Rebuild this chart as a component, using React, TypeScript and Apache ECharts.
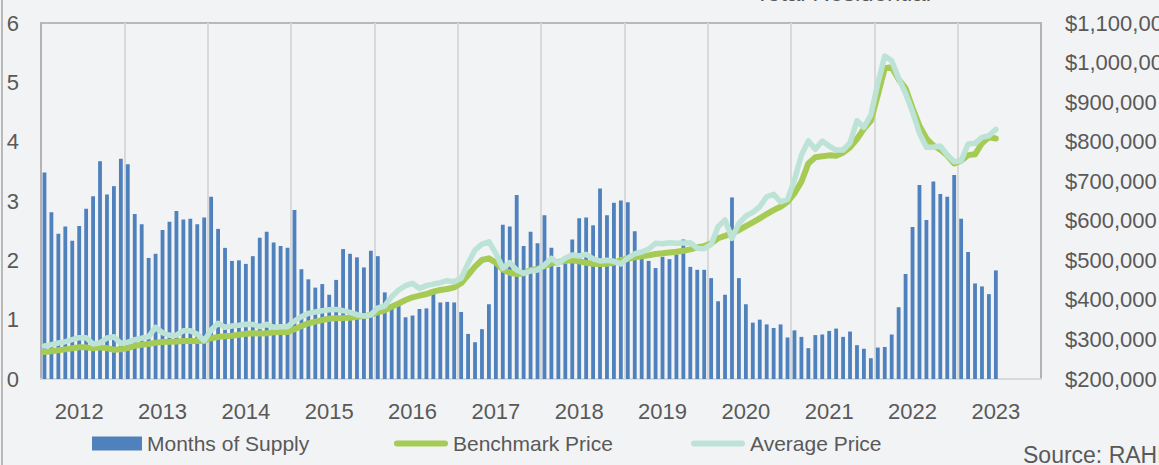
import React, { useEffect, useRef } from 'react';
import * as echarts from 'echarts';

const yearLabels = ['2012', '2013', '2014', '2015', '2016', '2017', '2018', '2019', '2020', '2021', '2022', '2023'];

const monthsOfSupply = [
  3.48, 2.81, 2.45, 2.57, 2.33, 2.58, 2.87, 3.08, 3.67, 3.11, 3.25, 3.71,
  3.62, 2.78, 2.61, 2.04, 2.11, 2.51, 2.65, 2.83, 2.69, 2.70, 2.61, 2.72,
  3.07, 2.53, 2.21, 1.99, 2.00, 1.94, 2.07, 2.38, 2.48, 2.30, 2.24, 2.21,
  2.85, 1.85, 1.68, 1.54, 1.60, 1.42, 1.67, 2.19, 2.11, 2.05, 1.88, 2.16,
  2.07, 1.46, 1.26, 1.24, 1.04, 1.07, 1.18, 1.19, 1.45, 1.29, 1.30, 1.29,
  1.13, 0.76, 0.62, 0.84, 1.26, 1.93, 2.60, 2.57, 3.10, 2.24, 2.48, 2.29,
  2.76, 2.21, 1.89, 1.95, 2.35, 2.71, 2.72, 2.59, 3.21, 2.76, 2.97, 3.01,
  2.98, 2.49, 2.03, 1.99, 1.87, 2.06, 2.02, 2.10, 2.35, 1.89, 1.84, 1.84,
  1.70, 1.31, 1.42, 3.06, 1.70, 1.26, 0.95, 1.00, 0.92, 0.86, 0.92, 0.70,
  0.82, 0.71, 0.52, 0.74, 0.75, 0.81, 0.85, 0.71, 0.80, 0.57, 0.51, 0.35,
  0.53, 0.54, 0.75, 1.21, 1.77, 2.56, 3.27, 2.68, 3.33, 3.12, 3.07, 3.44,
  2.70, 2.14, 1.61, 1.56, 1.43, 1.83,
];

// thousands of dollars
const benchmarkPrice = [
  268, 270, 272.5, 275, 278, 280, 280, 277.5, 280, 278, 274, 275,
  278, 284, 286.7, 288.5, 291.8, 293.5, 294.3, 295, 296, 296, 296, 297,
  303, 306, 308, 309.5, 312, 314.5, 315.5, 315, 315.5, 318, 319, 319,
  326, 334, 340.8, 345, 349, 352.4, 353.4, 354, 355, 357.5, 359, 362.5,
  368.6, 373.6, 382.8, 391, 399.7, 406.5, 410.6, 414.8, 420.7, 425, 427.5, 431.8,
  442, 463, 484, 500.8, 505, 494, 477, 468.7, 465.4, 467, 475.5, 478,
  485.6, 492.4, 495.7, 499, 500, 497.5, 494, 491.5, 490.7, 491.5, 494, 500.8,
  504, 507.6, 510, 512.6, 516, 517.7, 520, 521.8, 524.3, 527.8, 533, 536,
  543, 555.7, 562, 568, 576.6, 586.7, 596, 606, 617, 627, 635.5, 648,
  669.4, 698.7, 745, 760.4, 763, 765.4, 764.5, 772, 785.7, 806.7, 832.7, 853,
  918, 985.5, 988, 957.6, 934.8, 885, 840, 808, 790, 780, 765, 745,
  752, 766, 768, 796, 811, 808,
];

const averagePrice = [
  283.4, 286.7, 291, 294.3, 299.4, 304.4, 304.4, 288.5, 291.8, 303.6, 307, 290,
  292.8, 299.4, 302.9, 307, 330.7, 317, 310.5, 310.9, 322, 322, 313, 297,
  323.9, 340.8, 330.7, 334, 335.7, 338.3, 338, 332.3, 338.3, 330.7, 332.3, 332.3,
  346.6, 357.5, 366, 369.4, 372.7, 375, 376, 372.7, 368.6, 362.5, 359, 362.5,
  379.5, 384.5, 408, 425, 436, 442, 429, 436, 440, 443.4, 448.5, 446,
  454.5, 492.5, 526, 541, 547, 517.7, 480, 494, 475.5, 467, 473, 475.5,
  488, 505, 492.4, 505.9, 513.4, 511, 515, 504, 498.3, 500, 497.5, 490.7,
  505.9, 516.7, 521, 528.6, 543, 542, 544.5, 543, 543.8, 544.5, 530.3, 529.5,
  540.5, 585, 602, 555.7, 593.6, 612, 621.4, 635.5, 660.8, 667, 648, 654.2,
  703, 766, 802, 780.6, 801.6, 789, 778.9, 778.9, 797.3, 853, 836, 867.4,
  947.5, 1016.5, 1004.6, 960, 922, 875.7, 821, 785.7, 785.7, 789, 766.2, 749.3,
  751.8, 794, 795.8, 810.9, 815, 831,
];

const FONT = 'Liberation Sans';
const TEXT = '#595959';
const GREEN = '#a6cb55';
const TEAL = '#bde3d7';

export default function App() {
  const ref = useRef<HTMLDivElement>(null);
  useEffect(() => {
    document.body.style.margin = '0';
    const chart = echarts.init(ref.current as HTMLDivElement, null, { renderer: 'svg' });
    const categories: string[] = [];
    yearLabels.forEach((y) => {
      for (let m = 0; m < 12; m++) categories.push(`${y}-${m}`);
    });
    const money = (v: number) => '$' + v.toLocaleString('en-US');
    const lineIcon = 'path://M3,0 L51,0 A3,3 0 0 1 51,6 L3,6 A3,3 0 0 1 3,0 Z';
    chart.setOption({
      animation: false,
      backgroundColor: '#f2f3f5',
      textStyle: { fontFamily: FONT },
      grid: {
        left: 41, right: 118, top: 23, bottom: 86,
        outerBoundsMode: 'none',
        containLabel: false,
        show: true, borderColor: '#a6a6a6', borderWidth: 1.5, backgroundColor: 'transparent',
      },
      graphic: [
        { type: 'line', shape: { x1: 2, y1: 0, x2: 2, y2: 465 }, style: { stroke: '#a6a6a6', lineWidth: 1.5 } },
        {
          type: 'text', x: 843, y: 4,
          style: { text: 'Total Residential', font: `24px "${FONT}"`, fill: TEXT, textAlign: 'center', textVerticalAlign: 'bottom' },
        },
        {
          type: 'text', x: 1023, y: 455,
          style: { text: 'Source: RAHB', font: `23px "${FONT}"`, fill: TEXT, textAlign: 'left', textVerticalAlign: 'middle' },
        },
      ],
      legend: [
        {
          data: ['Months of Supply'], left: 92, top: 433, padding: 0, itemWidth: 50, itemHeight: 14, icon: 'rect',
          textStyle: { fontSize: 21, color: TEXT, fontFamily: FONT },
        },
        {
          data: ['Benchmark Price'], left: 394, top: 433, padding: 0, itemWidth: 54, itemHeight: 6, icon: lineIcon,
          textStyle: { fontSize: 21, color: TEXT, fontFamily: FONT },
        },
        {
          data: ['Average Price'], left: 691, top: 433, padding: 0, itemWidth: 54, itemHeight: 6, icon: lineIcon,
          textStyle: { fontSize: 21, color: TEXT, fontFamily: FONT },
        },
      ],
      xAxis: {
        type: 'category',
        data: categories,
        boundaryGap: true,
        axisLine: { show: true, lineStyle: { color: '#d9d9d9', width: 2 } },
        axisTick: { show: false },
        axisLabel: {
          interval: (index: number) => index % 12 === 5,
          formatter: (value: string) => value.split('-')[0],
          fontSize: 22, color: TEXT, fontFamily: FONT, margin: 21,
        },
        splitLine: {
          show: true,
          interval: (index: number) => index % 12 === 0,
          lineStyle: { color: '#d9d9d9', width: 2 },
        },
      },
      yAxis: [
        {
          type: 'value', min: 0, max: 6, interval: 1, position: 'left',
          axisLine: { show: true, lineStyle: { color: '#a6a6a6', width: 1.5 } },
          axisTick: { show: false },
          splitLine: { show: false },
          axisLabel: { fontSize: 22, color: TEXT, fontFamily: FONT, margin: 22 },
        },
        {
          type: 'value', min: 200000, max: 1100000, interval: 100000, position: 'right',
          axisLine: { show: true, lineStyle: { color: '#a6a6a6', width: 1.5 } },
          axisTick: { show: false },
          splitLine: { show: false },
          axisLabel: { fontSize: 22, color: TEXT, fontFamily: FONT, margin: 24, formatter: money },
        },
      ],
      series: [
        {
          name: 'Months of Supply', type: 'bar', yAxisIndex: 0,
          data: monthsOfSupply, barCategoryGap: '45%',
          itemStyle: { color: '#4f81bd' },
        },
        {
          name: 'Benchmark Price', type: 'line', yAxisIndex: 1,
          data: benchmarkPrice.map((v) => v * 1000),
          symbol: 'none', showSymbol: false,
          lineStyle: { color: GREEN, width: 6, cap: 'round', join: 'round' },
          itemStyle: { color: GREEN },
        },
        {
          name: 'Average Price', type: 'line', yAxisIndex: 1,
          data: averagePrice.map((v) => v * 1000),
          symbol: 'none', showSymbol: false,
          lineStyle: { color: TEAL, width: 5.5, cap: 'round', join: 'round' },
          itemStyle: { color: TEAL },
        },
      ],
    });
    return () => chart.dispose();
  }, []);
  return <div ref={ref} style={{ width: 1159, height: 465 }} />;
}
